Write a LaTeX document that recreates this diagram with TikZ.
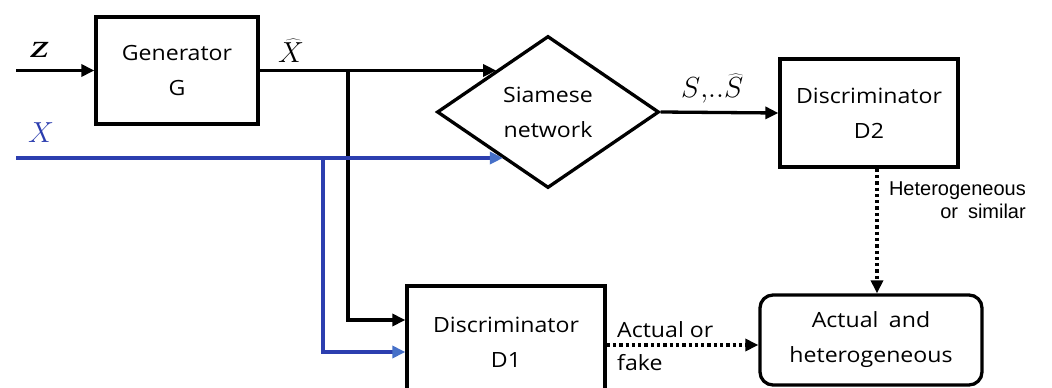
\RequirePackage{fix-cm}
\documentclass[tikz,border=0pt]{standalone}
\usepackage{fontspec}
\usetikzlibrary{arrows.meta,shapes.geometric,calc}
\newfontfamily\boxfont[FakeStretch=1.1]{Open Sans}
\newfontfamily\lblfont{Liberation Sans}
\newfontfamily\serifit{Liberation Serif}
\definecolor{xblue}{RGB}{44,62,175}
\definecolor{tipblue}{RGB}{70,112,200}
\begin{document}
\begin{tikzpicture}[x=1pt,y=-1pt,
  blk/.style={draw, line width=3.3pt, inner sep=0pt, align=center,
    font=\boxfont\fontsize{21}{35}\selectfont},
  arr/.style={line width=3.3pt, -{Triangle[length=13pt,width=12pt]}},
  bl/.style={draw=xblue, line width=3.3pt, -{Triangle[length=13pt,width=12pt,color=tipblue]}},
  dotarr/.style={line width=3.3pt, dash pattern=on 3.3pt off 3pt, -{Triangle[length=13pt,width=12pt]}},
  mlbl/.style={font=\fontsize{29}{32}\selectfont, inner sep=0pt},
  txt/.style={font=\boxfont\fontsize{21}{33}\selectfont, inner sep=0pt},
  small/.style={font=\lblfont\fontsize{20}{23}\selectfont, inner sep=0pt}]
\useasboundingbox (0,0) rectangle (1052,388);
\clip (0,0) rectangle (1052,388);

\node[blk, minimum width=162pt, minimum height=107pt] (G) at (177,70.5) {Generator\\G};
\node[blk, diamond, aspect=1.46, minimum width=222pt, minimum height=152pt] (S) at (548,112) {Siamese\\network};
\node[blk, minimum width=178pt, minimum height=108pt] (D2) at (869,113) {Discriminator\\D2};
\node[blk, minimum width=198pt, minimum height=112pt] (D1) at (506,342) {Discriminator\\D1};
\node[blk, rounded corners=13pt, minimum width=222pt, minimum height=90pt] (A) at (871,340) {Actual\enspace and\\heterogeneous};

% labels
\node[inner sep=0pt, font=\serifit\itshape\fontsize{33}{36}\selectfont, anchor=base] (lz) at (40,57) {\scalebox{1.45}[1]{z}};
\node[mlbl, anchor=base] (lxh) at (291,62) {$\widehat{X}$};
\node[mlbl, text=xblue, anchor=base] (lx) at (41,142) {$X$};
\node[mlbl, anchor=base west] (ls) at (681,97) {$S{,}..\widehat{S}$};
\node[small, align=right, anchor=north east] (lh) at (1026,182) {Heterogeneous\\or\enspace similar};
\node[txt, align=left, anchor=west] (la) at (617,346) {Actual or\\fake};

% connectors
\coordinate (zs) at (16,70.5);
\draw[arr] (zs) -- (G.west);
\coordinate (sx) at ($(S.west)!0.54!(S.north)$);
\draw[arr] (G.east) -- (G.east -| sx);
\coordinate (bj) at (348,70.5);
\draw[arr] (bj) |- ([yshift=22pt]D1.west);
\coordinate (xs) at (16,158);
\coordinate (sxb) at ($(S.west)!0.6!(S.south)$);
\draw[bl] (xs) -- (xs -| sxb);
\coordinate (bj2) at (323,158);
\draw[bl] (bj2) |- ([yshift=-10pt]D1.west);
\draw[arr] (S.east) -- (D2.west);
\draw[dotarr] ([xshift=8pt]D2.south) -- ([xshift=8pt]D2.south |- A.north);
\draw[dotarr] ([yshift=-3pt]D1.east) -- ([yshift=-3pt]D1.east -| A.west);
\end{tikzpicture}
\end{document}
